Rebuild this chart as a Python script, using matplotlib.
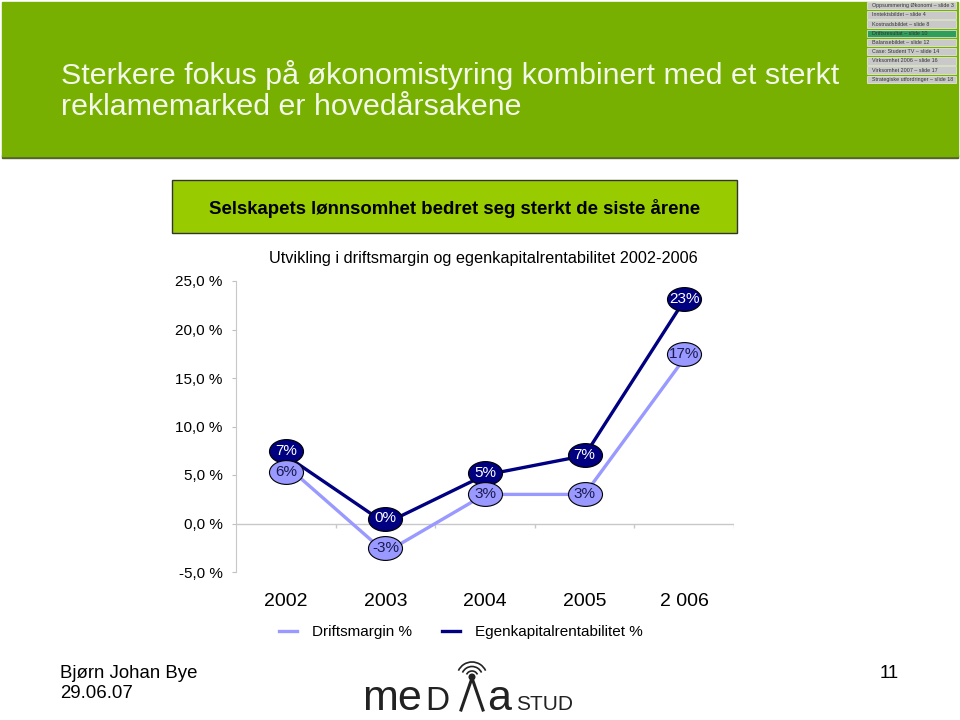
import matplotlib
matplotlib.use("Agg")
import matplotlib.pyplot as plt
import numpy as np
from matplotlib.patches import Rectangle, Arc, Circle
from matplotlib.path import Path
from matplotlib.transforms import Affine2D, offset_copy

plt.rcParams['font.family'] = ['Liberation Sans', 'DejaVu Sans']

# data
years = ["2002", "2003", "2004", "2005", "2 006"]
driftsmargin = [6, -3, 3, 3, 17]
egenkapital = [7, 0, 5, 7, 23]
yticks = [-5, 0, 5, 10, 15, 20, 25]
nav_items = ["Oppsummering Økonomi – slide 3", "Inntektsbildet – slide 4",
             "Kostnadsbildet – slide 8", "Driftsresultat – slide 10",
             "Balansebildet – slide 12", "Case: Student TV – slide 14",
             "Virksomhet 2006 – slide 16", "Virksomhet 2007 – slide 17",
             "Strategiske utfordringer – slide 18"]
nav_active = 3

# label nudges in pixels (up is positive)
ek_nudge = [5, 5, 2, 1, 1]
dm_nudge = [-7, 5, 0, 0, 5]

NAVY = "#000080"
LILAC = "#9999ff"
HEADER = "#77b000"

fig = plt.figure(figsize=(9.6, 7.2), dpi=100)

# slide decorations, in pixel coordinates
bg = fig.add_axes([0, 0, 1, 1], zorder=0)
bg.set_xlim(0, 960)
bg.set_ylim(720, 0)
bg.axis("off")

bg.add_patch(Rectangle((2, 155), 956, 3, color="#55622f"))
bg.add_patch(Rectangle((2, 2), 956, 154, color=HEADER))
bg.text(61, 75, "Sterkere fokus på økonomistyring kombinert med et sterkt",
        fontsize=21.9, color="#f4f8ea", va="center")
bg.text(61, 107, "reklamemarked er hovedårsakene",
        fontsize=21.9, color="#f4f8ea", va="center")

for i, item in enumerate(nav_items):
    y0 = 2 + i * 9.2
    fc = "#2e9e5a" if i == nav_active else "#c9c9c9"
    bg.add_patch(Rectangle((867, y0), 89, 7.4, facecolor=fc,
                           edgecolor="#eeeeee", lw=0.5))
    bg.text(872, y0 + 3.8, item, fontsize=3.9, color="#333333", va="center")

bg.add_patch(Rectangle((172, 180), 565, 53, facecolor="#99cc00",
                       edgecolor="#333333", lw=1))
bg.text(455, 208, "Selskapets lønnsomhet bedret seg sterkt de siste årene",
        fontsize=13.4, fontweight="bold", ha="center", va="center")

bg.text(483, 258, "Utvikling i driftsmargin og egenkapitalrentabilitet 2002-2006",
        fontsize=11.7, ha="center", va="center")

# footer
bg.text(60, 673, "Bjørn Johan Bye", fontsize=13.4, va="center")
bg.text(60, 694, "29.06.07", fontsize=13.4, va="center")
bg.text(880, 673, "11", fontsize=13.4, va="center")

# mediastud logo
bg.text(362, 710, "me", fontsize=31, va="baseline", color="#222222")
bg.text(425, 710, "D", fontsize=24, va="baseline", color="#222222")
bg.plot([461, 472, 483], [710, 678, 710], color="#222222", lw=2.2)
bg.add_patch(Circle((472, 677), 2.8, color="#222222"))
for r in [6, 10.5, 15]:
    bg.add_patch(Arc((472, 677), 2 * r, 2 * r, theta1=205, theta2=335,
                     color="#222222", lw=1.2))
bg.text(487, 710, "a", fontsize=31, va="baseline", color="#222222")
bg.text(516, 710, "STUD", fontsize=15, va="baseline", color="#222222")

# the chart
ax = fig.add_axes([236 / 960, 148 / 720, 498 / 960, 291 / 720], zorder=1)
ax.set_facecolor("none")
x = np.arange(1, len(years) + 1)

ax.axhline(0, color="#c8c8c8", lw=1, zorder=1)
ax.vlines(np.arange(1.5, len(years) + 1), -0.5, 0, color="#c8c8c8", lw=1)

l_dm, = ax.plot(x, driftsmargin, color=LILAC, lw=2.4, zorder=2,
                label="Driftsmargin %")
l_ek, = ax.plot(x, egenkapital, color=NAVY, lw=2.4, zorder=3,
                label="Egenkapitalrentabilitet %")

ellipse = Affine2D().scale(1.0, 0.7).transform_path(Path.unit_circle())

def label_series(vals, nudges, fc, tc):
    for xi, v, dy in zip(x, vals, nudges):
        tr = offset_copy(ax.transData, fig=fig, x=0, y=dy * 0.72, units="points")
        ax.plot([xi], [v], marker=ellipse, markersize=24.5, markerfacecolor=fc,
                markeredgecolor="black", markeredgewidth=0.8, transform=tr,
                zorder=5, clip_on=False)
        ax.text(xi, v, f"{v}%", transform=tr, ha="center", va="center",
                fontsize=11, color=tc, zorder=6)

label_series(egenkapital, ek_nudge, NAVY, "white")
label_series(driftsmargin, dm_nudge, LILAC, "#1a1a50")

ax.set_xlim(0.5, len(years) + 0.5)
ax.set_ylim(-5, 25)
ax.set_yticks(yticks)
ax.set_yticklabels([f"{t:.1f} %".replace(".", ",") for t in yticks], fontsize=11)
ax.set_xticks(x)
ax.set_xticklabels(years, fontsize=14)
ax.tick_params(axis="x", length=0, pad=15)
ax.tick_params(axis="y", length=3, color="#c0c0c0", pad=6.5)
for s in ["top", "right", "bottom"]:
    ax.spines[s].set_visible(False)
ax.spines["left"].set_color("#c8c8c8")

fig.legend(handles=[l_dm, l_ek], loc="center",
           bbox_to_anchor=(461 / 960, 88 / 720), ncol=2, frameon=False,
           fontsize=11, handlelength=1.15, handletextpad=1.0,
           columnspacing=2.0)

fig.savefig("out.png", dpi=100)
